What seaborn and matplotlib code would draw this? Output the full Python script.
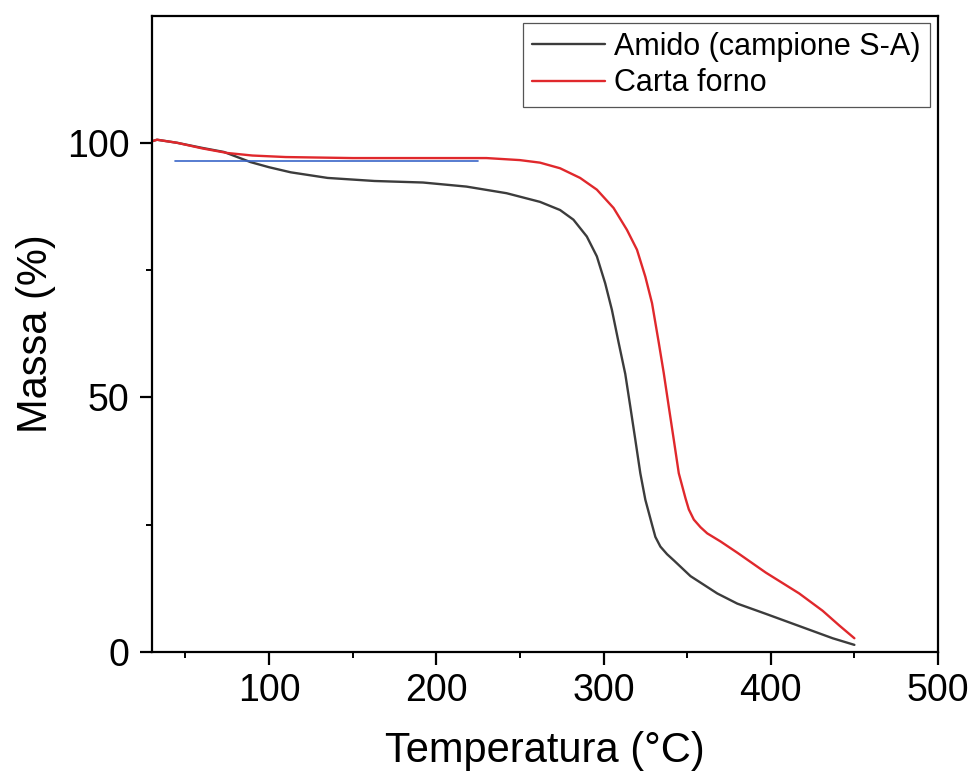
import matplotlib
matplotlib.use("Agg")
import matplotlib.pyplot as plt
import seaborn as sns
import pandas as pd
from matplotlib.ticker import MultipleLocator

# Thermogravimetric curves (mass % vs temperature)
temp_amido = [30, 33, 45, 60, 73, 89, 100, 113, 135, 163, 192, 218, 242, 262,
              274, 282, 290, 296, 301, 305, 309, 313, 316, 319, 322, 325, 329,
              331, 334, 338, 342, 352, 368, 380, 397, 417, 437, 450]
massa_amido = [100.3, 100.6, 100.0, 99.0, 98.2, 96.2, 95.2, 94.2, 93.1, 92.5,
               92.2, 91.4, 90.1, 88.4, 86.8, 84.9, 81.6, 77.7, 72.4, 67.2,
               60.8, 54.6, 48.2, 41.7, 35.1, 29.9, 25.0, 22.6, 20.7, 19.2,
               18.0, 14.9, 11.5, 9.5, 7.5, 5.1, 2.7, 1.4]

temp_carta = [30, 33, 45, 60, 75, 90, 110, 150, 200, 230, 250, 262, 274, 286,
              296, 306, 314, 320, 325, 329, 333, 336, 339, 342, 345, 349, 351,
              354, 358, 362, 370, 380, 397, 417, 431, 441, 450]
massa_carta = [100.3, 100.6, 100.0, 98.9, 98.0, 97.5, 97.2, 97.0, 97.0, 97.0,
               96.6, 96.1, 95.0, 93.1, 90.8, 87.2, 82.9, 79.0, 73.7, 68.5,
               60.8, 54.8, 48.2, 41.7, 35.1, 30.2, 28.0, 26.0, 24.5, 23.3,
               21.7, 19.5, 15.6, 11.5, 8.1, 5.2, 2.7]

# Horizontal reference line on the plateau
baseline_temp = [44, 225]
baseline_massa = [96.4, 96.4]

label_amido = "Amido (campione S-A)"
label_carta = "Carta forno"

sns.set_theme(style="ticks")
plt.rcParams['font.family'] = ['Liberation Sans', 'DejaVu Sans']
plt.rcParams.update({
    "xtick.major.size": 9, "ytick.major.size": 9,
    "xtick.minor.size": 4.5, "ytick.minor.size": 4.5,
    "xtick.major.width": 1.6, "ytick.major.width": 1.6,
    "xtick.minor.width": 1.4, "ytick.minor.width": 1.4,
    "xtick.color": "black", "ytick.color": "black",
    "text.color": "black", "axes.labelcolor": "black",
})

df = pd.concat([
    pd.DataFrame({"Temperatura": temp_amido, "Massa": massa_amido, "Campione": label_amido}),
    pd.DataFrame({"Temperatura": temp_carta, "Massa": massa_carta, "Campione": label_carta}),
], ignore_index=True)
df_base = pd.DataFrame({"Temperatura": baseline_temp, "Massa": baseline_massa})

fig = plt.figure(figsize=(9.75, 7.78), dpi=100)
ax = fig.add_axes([152 / 975, 1 - 652 / 778, (938 - 152) / 975, (652 - 16) / 778])
ax.set_facecolor("white")

sns.lineplot(data=df, x="Temperatura", y="Massa", hue="Campione",
             palette={label_amido: "#3c3c3c", label_carta: "#e0282c"},
             sort=False, estimator=None, linewidth=1.7, ax=ax)
sns.lineplot(data=df_base, x="Temperatura", y="Massa", color="#3a66c8",
             linewidth=1.2, sort=False, estimator=None, legend=False, ax=ax)

ax.set_xlim(30, 500)
ax.set_ylim(0, 124.9)
ax.xaxis.set_major_locator(MultipleLocator(100))
ax.xaxis.set_minor_locator(MultipleLocator(50))
ax.yaxis.set_major_locator(MultipleLocator(50))
ax.yaxis.set_minor_locator(MultipleLocator(25))

ax.tick_params(which="both", direction="out", top=False, right=False,
               bottom=True, left=True)
ax.tick_params(which="major", labelsize=27, labelcolor="black")
ax.tick_params(axis="x", which="major", pad=6)
ax.tick_params(axis="y", which="major", pad=7)

for side in ["left", "bottom", "top", "right"]:
    ax.spines[side].set_visible(True)
    ax.spines[side].set_linewidth(1.6)
    ax.spines[side].set_color("black")

ax.set_xlabel("Temperatura (°C)", fontsize=30, labelpad=16, color="black")
ax.set_ylabel("Massa (%)", fontsize=30, labelpad=8, color="black")

handles, labels = ax.get_legend_handles_labels()
leg = ax.legend(handles, labels, loc="upper right",
                bbox_to_anchor=(930 / 975, 1 - 23 / 778),
                bbox_transform=fig.transFigure, fontsize=22, frameon=True,
                fancybox=False, edgecolor="#555555", framealpha=1,
                borderpad=0.3, labelspacing=0.2, handlelength=2.4,
                handletextpad=0.3, borderaxespad=0)
leg.get_frame().set_linewidth(0.9)
for line in leg.get_lines():
    line.set_linewidth(1.7)
for txt in leg.get_texts():
    txt.set_color("black")

fig.savefig("out.png", dpi=100, facecolor="white")
